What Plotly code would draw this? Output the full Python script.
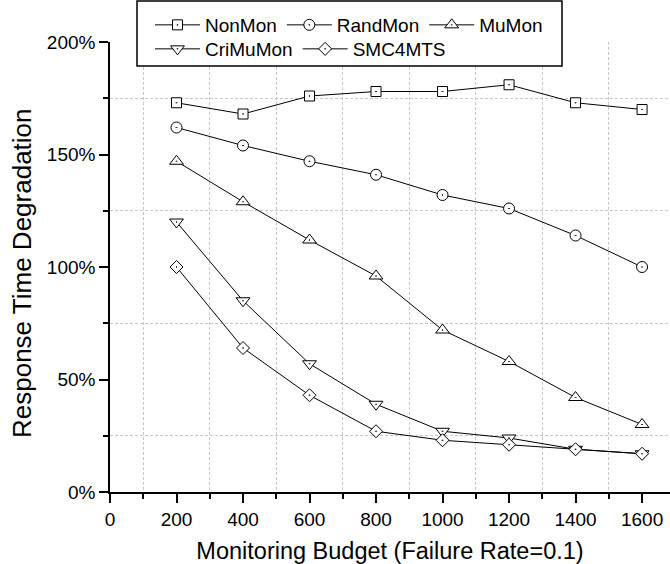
import plotly.graph_objects as go

budget = [200, 400, 600, 800, 1000, 1200, 1400, 1600]
nonmon = [173, 168, 176, 178, 178, 181, 173, 170]
randmon = [162, 154, 147, 141, 132, 126, 114, 100]
mumon = [147, 129, 112, 96, 72, 58, 42, 30]
crimumon = [120, 85, 57, 39, 27, 24, 19, 17]
smc4mts = [100, 64, 43, 27, 23, 21, 19, 17]

series = [
    ("NonMon", nonmon, "square-dot", 10, "legend"),
    ("RandMon", randmon, "circle-dot", 11, "legend"),
    ("MuMon", mumon, "triangle-up-dot", 12, "legend"),
    ("CriMuMon", crimumon, "triangle-down-dot", 12, "legend2"),
    ("SMC4MTS", smc4mts, "diamond-dot", 10, "legend2"),
]

FONT = "Liberation Sans, Arial, sans-serif"

fig = go.Figure()
for name, vals, sym, sz, lg in series:
    fig.add_trace(go.Scatter(
        x=budget, y=vals, name=name, mode="lines+markers",
        line=dict(color="black", width=1),
        marker=dict(symbol=sym, size=sz, color="white",
                    line=dict(color="black", width=1)),
        legend=lg,
    ))

W, H = 670, 564
L, R, T, B = 110, 0, 42, 72
pw, ph = W - L - R, H - T - B

def px_x(p):
    return (p - L) / pw

def px_y(p):
    return (H - B - p) / ph

fig.add_shape(type="rect", xref="paper", yref="paper",
              x0=px_x(137), x1=px_x(562), y0=px_y(66), y1=px_y(1),
              line=dict(color="black", width=1.5), fillcolor="white",
              layer="above")

fig.add_annotation(text="Response Time Degradation", textangle=-90,
                   xref="paper", yref="paper", x=px_x(22), y=px_y(273),
                   xanchor="center", yanchor="middle", showarrow=False,
                   font=dict(family=FONT, size=26, color="black"))

legend_common = dict(orientation="h", xanchor="left", yanchor="top",
                     xref="container", yref="container",
                     bgcolor="rgba(0,0,0,0)", borderwidth=0,
                     font=dict(family=FONT, size=19, color="black"),
                     itemwidth=45, tracegroupgap=0)

axis_common = dict(
    showline=True, linecolor="black", linewidth=1.5,
    ticks="outside", ticklen=9, tickwidth=1.5, tickcolor="black",
    showgrid=False, zeroline=False, mirror=False, automargin=False,
    tickfont=dict(family=FONT, size=19, color="black"),
)

fig.update_layout(
    width=W, height=H,
    margin=dict(l=L, r=R, t=T, b=B, autoexpand=False),
    paper_bgcolor="white", plot_bgcolor="white",
    font=dict(family=FONT, color="black"),
    showlegend=True,
    legend=dict(x=150 / W, y=1 - 6 / H, **legend_common),
    legend2=dict(x=150 / W, y=1 - 30 / H, **legend_common),
    xaxis=dict(
        range=[0, 1684], tickmode="linear", tick0=0, dtick=200,
        minor=dict(dtick=100, ticklen=5, tickwidth=1.5, tickcolor="black",
                   ticks="outside", showgrid=True, gridcolor="#c8c8c8",
                   gridwidth=1, griddash="3px,2px"),
        title=dict(text="Monitoring Budget (Failure Rate=0.1)",
                   font=dict(family=FONT, size=23.5, color="black")),
        **axis_common,
    ),
    yaxis=dict(
        range=[0, 200], tickmode="linear", tick0=0, dtick=50, ticksuffix="%",
        minor=dict(dtick=25, ticklen=5, tickwidth=1.5, tickcolor="black",
                   ticks="outside", showgrid=True, gridcolor="#c8c8c8",
                   gridwidth=1, griddash="3px,2px"),
        **axis_common,
    ),
)

fig.write_html("out.html", config={"displayModeBar": False},
               post_script="document.body.style.margin='0px';document.body.style.padding='0px';")
